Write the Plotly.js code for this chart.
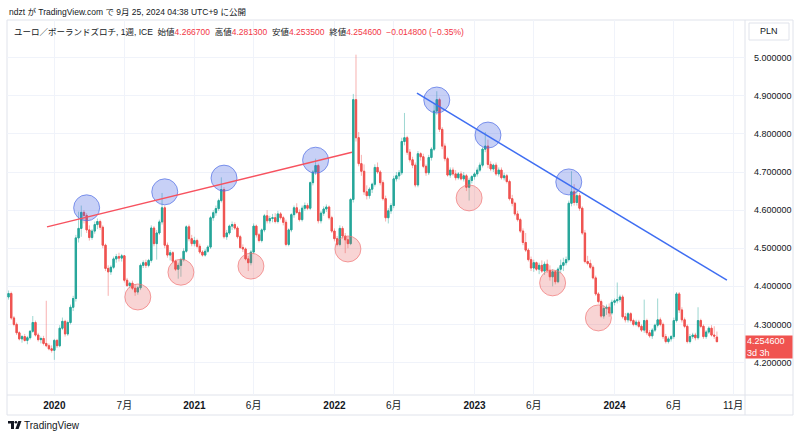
<!DOCTYPE html>
<html><head><meta charset="utf-8">
<script src="https://cdn.plot.ly/plotly-3.0.1.min.js"></script>
<style>html,body{margin:0;padding:0;background:#fff}#chart{width:800px;height:439px}</style>
</head><body><div id="chart"></div>
<script>
// ---- data: EUR/PLN weekly (ICE), weeks starting 2019-09-09 ----
const weekStart = '2019-09-09';
const openP = [
4.372,4.381,4.317,4.300,4.278,4.262,4.268,4.258,4.265,4.282,
4.305,4.272,4.260,4.263,4.250,4.244,4.236,4.232,4.258,4.244,
4.290,4.308,4.275,4.305,4.345,4.368,4.527,4.552,4.594,4.586,
4.548,4.528,4.545,4.562,4.570,4.555,4.508,4.447,4.438,4.450,
4.472,4.478,4.474,4.480,4.416,4.402,4.408,4.395,4.385,4.396,
4.455,4.462,4.455,4.468,4.553,4.512,4.540,4.569,4.606,4.508,
4.482,4.488,4.466,4.445,4.455,4.470,4.492,4.556,4.525,4.512,
4.520,4.505,4.490,4.482,4.492,4.503,4.580,4.593,4.604,4.625,
4.654,4.530,4.540,4.558,4.562,4.553,4.530,4.502,4.498,4.472,
4.462,4.490,4.558,4.535,4.520,4.548,4.585,4.572,4.578,4.580,
4.570,4.590,4.580,4.568,4.510,4.548,4.588,4.606,4.594,4.575,
4.605,4.612,4.605,4.672,4.700,4.717,4.572,4.592,4.603,4.608,
4.580,4.545,4.525,4.510,4.552,4.532,4.522,4.512,4.628,4.890,
4.790,4.722,4.702,4.648,4.638,4.655,4.668,4.712,4.700,4.672,
4.630,4.580,4.598,4.612,4.682,4.690,4.698,4.780,4.790,4.752,
4.732,4.718,4.666,4.748,4.740,4.715,4.698,4.738,4.760,4.860,
4.890,4.812,4.768,4.735,4.692,4.705,4.695,4.685,4.695,4.682,
4.690,4.660,4.678,4.688,4.695,4.705,4.718,4.760,4.768,4.720,
4.708,4.718,4.695,4.705,4.685,4.690,4.675,4.630,4.618,4.590,
4.575,4.545,4.515,4.495,4.470,4.448,4.462,4.445,4.455,4.440,
4.458,4.442,4.425,4.438,4.412,4.445,4.455,4.462,4.470,4.618,
4.648,4.620,4.638,4.605,4.540,4.465,4.460,4.450,4.422,4.380,
4.360,4.322,4.342,4.345,4.330,4.358,4.362,4.365,4.372,4.320,
4.312,4.328,4.310,4.300,4.306,4.295,4.285,4.310,4.278,4.270,
4.285,4.298,4.312,4.300,4.268,4.255,4.262,4.268,4.310,4.380,
4.338,4.312,4.295,4.255,4.268,4.272,4.265,4.310,4.295,4.268,
4.280,4.290,4.272,4.2667];
const highP = [
4.389,4.386,4.322,4.305,4.282,4.272,4.275,4.270,4.285,4.322,
4.310,4.278,4.268,4.270,4.362,4.250,4.245,4.262,4.262,4.298,
4.318,4.312,4.310,4.352,4.375,4.535,4.596,4.612,4.600,4.592,
4.560,4.550,4.570,4.578,4.575,4.560,4.512,4.455,4.455,4.478,
4.485,4.488,4.485,4.482,4.422,4.412,4.415,4.405,4.400,4.460,
4.468,4.470,4.472,4.560,4.558,4.548,4.575,4.645,4.612,4.515,
4.495,4.492,4.470,4.462,4.475,4.500,4.560,4.562,4.535,4.530,
4.525,4.512,4.495,4.498,4.508,4.585,4.600,4.612,4.630,4.686,
4.660,4.548,4.562,4.570,4.568,4.558,4.535,4.510,4.502,4.480,
4.495,4.565,4.562,4.540,4.552,4.590,4.600,4.585,4.590,4.592,
4.598,4.595,4.585,4.575,4.552,4.592,4.612,4.618,4.602,4.612,
4.620,4.618,4.675,4.705,4.735,4.722,4.598,4.610,4.615,4.612,
4.585,4.552,4.532,4.560,4.558,4.540,4.530,4.632,4.905,5.008,
4.805,4.745,4.720,4.665,4.660,4.672,4.720,4.725,4.705,4.678,
4.638,4.605,4.618,4.690,4.700,4.705,4.790,4.855,4.795,4.760,
4.740,4.725,4.755,4.752,4.748,4.720,4.745,4.765,4.880,4.912,
4.895,4.818,4.775,4.740,4.712,4.712,4.705,4.700,4.702,4.700,
4.695,4.685,4.692,4.700,4.712,4.725,4.765,4.805,4.785,4.728,
4.722,4.725,4.712,4.712,4.698,4.695,4.680,4.640,4.622,4.598,
4.580,4.552,4.540,4.500,4.478,4.470,4.465,4.462,4.468,4.465,
4.470,4.455,4.445,4.442,4.450,4.470,4.475,4.478,4.625,4.702,
4.668,4.650,4.645,4.610,4.548,4.480,4.470,4.455,4.428,4.385,
4.365,4.350,4.352,4.355,4.365,4.368,4.410,4.378,4.378,4.330,
4.332,4.332,4.315,4.312,4.312,4.300,4.365,4.315,4.285,4.290,
4.302,4.368,4.318,4.305,4.275,4.268,4.272,4.318,4.385,4.385,
4.345,4.318,4.300,4.275,4.278,4.278,4.345,4.315,4.300,4.285,
4.295,4.298,4.295,4.2813];
const lowP = [
4.365,4.312,4.295,4.272,4.258,4.252,4.255,4.248,4.260,4.278,
4.268,4.255,4.250,4.245,4.240,4.232,4.226,4.207,4.238,4.240,
4.285,4.268,4.270,4.300,4.335,4.360,4.515,4.530,4.565,4.540,
4.520,4.522,4.538,4.550,4.548,4.500,4.440,4.375,4.430,4.445,
4.462,4.465,4.465,4.410,4.398,4.395,4.390,4.375,4.378,4.390,
4.448,4.448,4.450,4.462,4.505,4.470,4.535,4.562,4.500,4.475,
4.468,4.460,4.440,4.420,4.425,4.465,4.488,4.518,4.505,4.505,
4.500,4.485,4.478,4.478,4.488,4.498,4.572,4.585,4.598,4.620,
4.525,4.522,4.535,4.548,4.548,4.525,4.498,4.490,4.468,4.440,
4.455,4.485,4.528,4.515,4.515,4.542,4.565,4.565,4.568,4.565,
4.565,4.575,4.560,4.505,4.505,4.542,4.580,4.590,4.570,4.570,
4.598,4.600,4.600,4.665,4.692,4.565,4.565,4.585,4.595,4.575,
4.540,4.518,4.505,4.505,4.525,4.487,4.500,4.508,4.620,4.780,
4.715,4.690,4.640,4.628,4.630,4.645,4.662,4.695,4.665,4.625,
4.570,4.565,4.590,4.605,4.675,4.680,4.692,4.770,4.745,4.725,
4.710,4.660,4.660,4.730,4.710,4.690,4.692,4.730,4.755,4.850,
4.805,4.760,4.728,4.688,4.685,4.690,4.678,4.680,4.678,4.675,
4.650,4.625,4.670,4.680,4.688,4.700,4.712,4.752,4.710,4.702,
4.700,4.690,4.688,4.680,4.678,4.670,4.625,4.610,4.585,4.570,
4.540,4.508,4.490,4.465,4.440,4.438,4.440,4.432,4.435,4.430,
4.435,4.415,4.400,4.405,4.408,4.435,4.440,4.455,4.465,4.610,
4.612,4.612,4.598,4.535,4.460,4.455,4.445,4.418,4.375,4.355,
4.318,4.315,4.325,4.320,4.325,4.350,4.355,4.358,4.315,4.305,
4.305,4.305,4.295,4.295,4.290,4.280,4.278,4.272,4.265,4.262,
4.280,4.292,4.295,4.262,4.250,4.250,4.255,4.262,4.305,4.330,
4.305,4.290,4.250,4.250,4.262,4.258,4.260,4.290,4.262,4.262,
4.275,4.268,4.262,4.2535];
const closeP = [
4.381,4.317,4.300,4.278,4.262,4.268,4.258,4.265,4.282,4.305,
4.272,4.260,4.263,4.250,4.244,4.236,4.232,4.258,4.244,4.290,
4.308,4.275,4.305,4.345,4.368,4.527,4.552,4.594,4.586,4.548,
4.528,4.545,4.562,4.570,4.555,4.508,4.447,4.438,4.450,4.472,
4.478,4.474,4.480,4.416,4.402,4.408,4.395,4.385,4.396,4.455,
4.462,4.455,4.468,4.553,4.512,4.540,4.569,4.606,4.508,4.482,
4.488,4.466,4.445,4.455,4.470,4.492,4.556,4.525,4.512,4.520,
4.505,4.490,4.482,4.492,4.503,4.580,4.593,4.604,4.625,4.654,
4.530,4.540,4.558,4.562,4.553,4.530,4.502,4.498,4.472,4.462,
4.490,4.558,4.535,4.520,4.548,4.585,4.572,4.578,4.580,4.570,
4.590,4.580,4.568,4.510,4.548,4.588,4.606,4.594,4.575,4.605,
4.612,4.605,4.672,4.700,4.717,4.572,4.592,4.603,4.608,4.580,
4.545,4.525,4.510,4.552,4.532,4.522,4.512,4.628,4.890,4.790,
4.722,4.702,4.648,4.638,4.655,4.668,4.712,4.700,4.672,4.630,
4.580,4.598,4.612,4.682,4.690,4.698,4.780,4.790,4.752,4.732,
4.718,4.666,4.748,4.740,4.715,4.698,4.738,4.760,4.860,4.890,
4.812,4.768,4.735,4.692,4.705,4.695,4.685,4.695,4.682,4.690,
4.660,4.678,4.688,4.695,4.705,4.718,4.760,4.768,4.720,4.708,
4.718,4.695,4.705,4.685,4.690,4.675,4.630,4.618,4.590,4.575,
4.545,4.515,4.495,4.470,4.448,4.462,4.445,4.455,4.440,4.458,
4.442,4.425,4.438,4.412,4.445,4.455,4.462,4.470,4.618,4.648,
4.620,4.638,4.605,4.540,4.465,4.460,4.450,4.422,4.380,4.360,
4.322,4.342,4.345,4.330,4.358,4.362,4.365,4.372,4.320,4.312,
4.328,4.310,4.300,4.306,4.295,4.285,4.310,4.278,4.270,4.285,
4.298,4.312,4.300,4.268,4.255,4.262,4.268,4.310,4.380,4.338,
4.312,4.295,4.255,4.268,4.272,4.265,4.310,4.295,4.268,4.280,
4.290,4.272,4.2694,4.2546];

const xTickDates = ['2020-01-06','2020-07-06','2021-01-04','2021-06-07','2022-01-03','2022-06-06','2023-01-02','2023-06-05','2024-01-01','2024-06-03','2024-11-04'];
const xTickLabels = ['<b>2020</b>','7月','<b>2021</b>','6月','<b>2022</b>','6月','<b>2023</b>','6月','<b>2024</b>','6月','11月'];
const priceTicks = [4.2,4.3,4.4,4.5,4.6,4.7,4.8,4.9,5.0];

// marked swing highs (blue) and swing lows (red)
const highMarkDates = ['2020-03-30','2020-10-19','2021-03-22','2021-11-15','2022-09-26','2023-02-06','2023-09-04'];
const highMarkPrices = [4.606,4.648,4.684,4.731,4.889,4.797,4.674];
const lowMarkDates = ['2020-08-10','2020-11-30','2021-05-31','2022-02-07','2022-12-19','2023-07-24','2023-11-20'];
const lowMarkPrices = [4.372,4.437,4.453,4.498,4.632,4.409,4.317];

// trend lines
const upLineDates = ['2019-12-18','2022-02-17 14:00'];
const upLinePrices = [4.556,4.752];
const downLineDates = ['2022-08-05 12:00','2024-10-19'];
const downLinePrices = [4.907,4.416];

// ---- build ----
const dates = openP.map((_, i) => {
  const d = new Date(Date.parse(weekStart + 'T00:00:00Z') + i * 7 * 86400000);
  return d.toISOString().slice(0, 10);
});
const bodyHigh = openP.map((o, i) => Math.max(o, closeP[i]));
const bodyLow = openP.map((o, i) => Math.min(o, closeP[i]));

const UP = '#26a69a', DN = '#ef5350';
const FONT = 'Liberation Sans, Noto Sans CJK JP, sans-serif';

const wickTrace = {
  type: 'candlestick', x: dates, open: openP, high: highP, low: lowP, close: closeP,
  increasing: {line: {color: 'rgba(38,166,154,0.45)', width: 1}, fillcolor: 'rgba(38,166,154,0.45)'},
  decreasing: {line: {color: 'rgba(239,83,80,0.45)', width: 1}, fillcolor: 'rgba(239,83,80,0.45)'},
  hoverinfo: 'skip', showlegend: false
};
const bodyTrace = {
  type: 'candlestick', x: dates, open: openP, high: bodyHigh, low: bodyLow, close: closeP,
  increasing: {line: {color: UP, width: 1}, fillcolor: UP},
  decreasing: {line: {color: DN, width: 1}, fillcolor: DN},
  hoverinfo: 'skip', showlegend: false
};

const L = 7, R = 745, T = 20, B = 395;
const px = x => (x - L) / (R - L);
const py = y => (B - y) / (B - T);

const shapes = [];
highMarkDates.forEach((d, i) => shapes.push({
  type: 'circle', xref: 'x', yref: 'y', xsizemode: 'pixel', ysizemode: 'pixel',
  xanchor: d, yanchor: highMarkPrices[i], x0: -13, x1: 13, y0: -13, y1: 13,
  fillcolor: 'rgba(70,100,225,0.30)', line: {color: 'rgba(80,110,230,0.7)', width: 1}, layer: 'above'
}));
lowMarkDates.forEach((d, i) => shapes.push({
  type: 'circle', xref: 'x', yref: 'y', xsizemode: 'pixel', ysizemode: 'pixel',
  xanchor: d, yanchor: lowMarkPrices[i], x0: -13, x1: 13, y0: -13, y1: 13,
  fillcolor: 'rgba(228,90,90,0.26)', line: {color: 'rgba(240,110,110,0.65)', width: 1}, layer: 'above'
}));
shapes.push({type: 'line', xref: 'x', yref: 'y', x0: upLineDates[0], x1: upLineDates[1], y0: upLinePrices[0], y1: upLinePrices[1], line: {color: '#f7525f', width: 1.5}});
shapes.push({type: 'line', xref: 'x', yref: 'y', x0: downLineDates[0], x1: downLineDates[1], y0: downLinePrices[0], y1: downLinePrices[1], line: {color: '#3f6ef2', width: 1.5}});
// frame lines
const frame = 'rgba(224,227,235,1)';
[[L, T, 793, T], [L, T, L, 415], [793, T, 793, 415], [L, 415, 793, 415], [L, B, 793, B], [R, T, R, 415]].forEach(s => shapes.push({
  type: 'line', xref: 'paper', yref: 'paper', x0: px(s[0]), y0: py(s[1]), x1: px(s[2]), y1: py(s[3]),
  line: {color: frame, width: 1}, layer: 'below'
}));
// PLN button frame
shapes.push({type: 'rect', xref: 'paper', yref: 'paper', x0: px(749), x1: px(789), y0: py(23), y1: py(40), line: {color: '#e0e3eb', width: 1}, fillcolor: 'rgba(0,0,0,0)'});
// TradingView logo mark
const P = (x, y) => px(x).toFixed(5) + ',' + py(y).toFixed(5);
shapes.push({type: 'path', xref: 'paper', yref: 'paper', path: 'M' + P(8, 421) + 'L' + P(14, 421) + 'L' + P(14, 429) + 'L' + P(11, 429) + 'L' + P(11, 423.5) + 'L' + P(8, 423.5) + 'Z', fillcolor: '#131722', line: {width: 0}});
shapes.push({type: 'circle', xref: 'paper', yref: 'paper', x0: px(14.6), x1: px(17.2), y0: py(421), y1: py(423.6), fillcolor: '#131722', line: {width: 0}});
shapes.push({type: 'path', xref: 'paper', yref: 'paper', path: 'M' + P(18.3, 421) + 'L' + P(21.5, 421) + 'L' + P(18.6, 429) + 'L' + P(15.4, 429) + 'Z', fillcolor: '#131722', line: {width: 0}});

const n = closeP.length;
const chg = closeP[n - 1] - closeP[n - 2];
const pct = chg / closeP[n - 2] * 100;
const red = v => '<span style="color:#f23645">' + v + '</span>';
const fmt = v => v.toFixed(6);
const legendText = 'ユーロ／ポーランドズロチ, 1週, ICE  始値' + red(fmt(openP[n - 1])) + '  高値' + red(fmt(highP[n - 1])) +
  '  安値' + red(fmt(lowP[n - 1])) + '  終値' + red(fmt(closeP[n - 1])) + '  ' +
  red((chg < 0 ? '−' : '+') + Math.abs(chg).toFixed(6) + ' (' + (pct < 0 ? '−' : '+') + Math.abs(pct).toFixed(2) + '%)');

const annotations = [
  {xref: 'paper', yref: 'paper', x: px(7), y: py(12), xanchor: 'left', yanchor: 'middle', showarrow: false,
   text: 'ndzt が TradingView.com で 9月 25, 2024 04:38 UTC+9 に公開', font: {family: FONT, size: 8.5, color: '#131722'}},
  {xref: 'paper', yref: 'paper', x: px(12), y: py(32), xanchor: 'left', yanchor: 'middle', showarrow: false,
   text: legendText, font: {family: FONT, size: 8.5, color: '#131722'}},
  {xref: 'paper', yref: 'paper', x: px(769), y: py(31.5), xanchor: 'center', yanchor: 'middle', showarrow: false,
   text: 'PLN', font: {family: FONT, size: 9, color: '#131722'}},
  {xref: 'paper', yref: 'y', x: px(745), y: closeP[n - 1], xanchor: 'left', yanchor: 'top', yshift: 7, showarrow: false,
   text: fmt(closeP[n - 1]) + '<br>3d 3h', align: 'left', valign: 'middle', bgcolor: '#f05350', borderpad: 1, width: 44, height: 20,
   font: {family: FONT, size: 9, color: '#ffffff'}},
  {xref: 'paper', yref: 'paper', x: px(22), y: py(425), xanchor: 'left', yanchor: 'middle', showarrow: false,
   text: 'TradingView', font: {family: FONT, size: 10, color: '#131722'}}
];

const layout = {
  width: 800, height: 439,
  margin: {l: L, r: 800 - R, t: T, b: 439 - B, pad: 0},
  paper_bgcolor: '#ffffff', plot_bgcolor: '#ffffff',
  showlegend: false, hovermode: false, dragmode: false,
  font: {family: FONT, color: '#131722'},
  xaxis: {
    type: 'date', range: ['2019-09-05', '2024-12-05'],
    rangeslider: {visible: false},
    tickmode: 'array', tickvals: xTickDates, ticktext: xTickLabels,
    showgrid: true, gridcolor: '#f0f3fa', gridwidth: 1, zeroline: false, showline: false,
    ticks: '', tickfont: {family: FONT, size: 10, color: '#131722'}, ticklabelstandoff: 3
  },
  yaxis: {
    side: 'right', range: [4.1147, 5.099], tickmode: 'array', tickvals: priceTicks,
    tickformat: '.6f', showgrid: true, gridcolor: '#f0f3fa', zeroline: false, showline: false,
    ticks: '', tickfont: {family: FONT, size: 9, color: '#131722'}, ticklabelstandoff: 8
  },
  shapes: shapes, annotations: annotations
};

Plotly.newPlot('chart', [wickTrace, bodyTrace], layout, {staticPlot: true, displayModeBar: false});
</script></body></html>
